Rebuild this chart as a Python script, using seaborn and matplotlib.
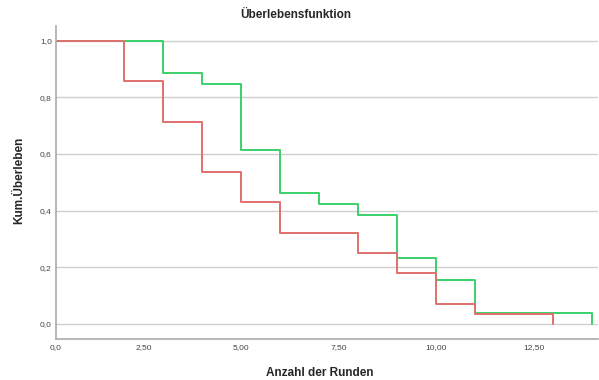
import matplotlib
matplotlib.use("Agg")
import matplotlib.pyplot as plt
import seaborn as sns
import pandas as pd

# Data (Kaplan-Meier step values)
red_time = [0, 2, 3, 4, 5, 6, 8, 9, 10, 11, 13]
red_surv = [1.0, 0.857, 0.714, 0.536, 0.429, 0.321, 0.25, 0.179, 0.071, 0.036, 0.0]
green_time = [0, 3, 4, 5, 6, 7, 8, 9, 10, 11, 14]
green_surv = [1.0, 0.885, 0.846, 0.615, 0.462, 0.423, 0.385, 0.231, 0.154, 0.038, 0.0]

x_tick_labels = ["0,0", "2,50", "5,00", "7,50", "10,00", "12,50"]
y_ticks = [0.0, 0.2, 0.4, 0.6, 0.8, 1.0]
y_tick_labels = ["0,0", "0,2", "0,4", "0,6", "0,8", "1,0"]

sns.set_style("white")
plt.rcParams["font.family"] = ["Liberation Sans", "DejaVu Sans"]

df = pd.concat([
    pd.DataFrame({"t": green_time, "s": green_surv, "g": "B"}),
    pd.DataFrame({"t": red_time, "s": red_surv, "g": "A"}),
])

W, H = 599, 380
fig = plt.figure(figsize=(W / 100, H / 100), dpi=100)
ax = fig.add_axes([0.0935, 0.108, 0.905, 0.824])

for y in y_ticks:
    ax.axhline(y, color="#d0d0d0", lw=1.0, zorder=0)

sns.lineplot(data=df, x="t", y="s", hue="g", hue_order=["B", "A"],
             palette={"B": "#3ad06a", "A": "#e0706c"},
             drawstyle="steps-post", lw=1.4, legend=False, ax=ax,
             estimator=None, sort=False)

xmin, xmax = 0.25, 14.15
ax.set_xlim(xmin, xmax)
ax.set_ylim(-0.054, 1.053)
ax.set_xticks([xmin, 2.5, 5.0, 7.5, 10.0, 12.5])
ax.set_xticklabels(x_tick_labels)
ax.set_yticks(y_ticks)
ax.set_yticklabels(y_tick_labels)
ax.tick_params(axis="both", length=0, labelsize=6, colors="#444444")
ax.tick_params(axis="x", pad=3.5)
ax.tick_params(axis="y", pad=3)

for s in ["top", "right"]:
    ax.spines[s].set_visible(False)
for s in ["left", "bottom"]:
    ax.spines[s].set_color("#aaaaaa")
    ax.spines[s].set_linewidth(1.2)

ax.set_xlabel("")
ax.set_ylabel("")
fig.text(320 / W, 1 - 373 / H, "Anzahl der Runden", ha="center", va="center",
         fontsize=8.5, fontweight="bold")
fig.text(19 / W, 1 - 180 / H, "Kum.Überleben", ha="center", va="center",
         rotation=90, fontsize=8.5, fontweight="bold")
fig.text(296 / W, 1 - 15 / H, "Überlebensfunktion", ha="center", va="center",
         fontsize=8.5, fontweight="bold")

fig.savefig("out.png", dpi=100)
